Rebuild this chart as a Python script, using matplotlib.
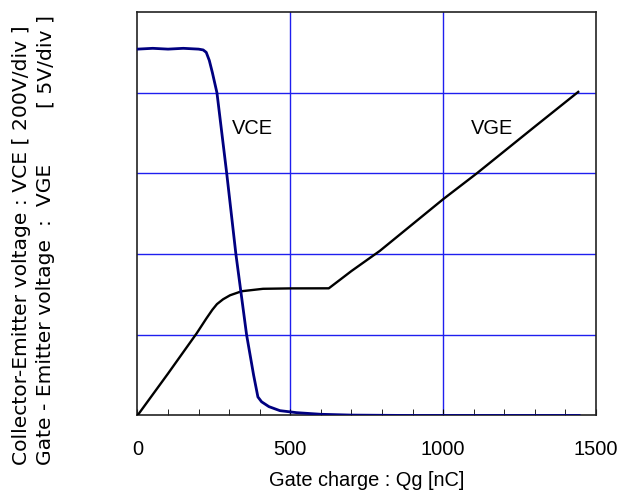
import numpy as np
import matplotlib.pyplot as plt

plt.rcParams['font.family'] = ['Liberation Sans', 'DejaVu Sans']

# Gate charge (nC) and voltages in divisions (VCE: 200V/div, VGE: 5V/div)
qg_vce = [0, 50, 100, 150, 200, 215, 225, 235, 245, 260, 292, 322, 357, 380,
          394, 406, 430, 466, 521, 600, 700, 900, 1200, 1445]
vce_div = [4.54, 4.55, 4.54, 4.55, 4.54, 4.53, 4.5, 4.4, 4.25, 4.0, 3.0, 2.0,
           1.0, 0.5, 0.23, 0.17, 0.11, 0.06, 0.035, 0.015, 0.005, 0.0, 0.0, 0.0]

qg_vge = [0, 100, 194, 225, 245, 260, 280, 303, 341, 411, 500, 626, 662, 700,
          793, 1000, 1110, 1300, 1442]
vge_div = [0, 0.52, 1.02, 1.2, 1.31, 1.38, 1.44, 1.49, 1.54, 1.57, 1.575,
           1.576, 1.68, 1.79, 2.04, 2.68, 3.0, 3.58, 4.01]

fig = plt.figure(figsize=(6.26, 4.92), dpi=100)
ax = fig.add_axes([0.2196, 0.1555, 0.7324, 0.8201])

grid_c = '#1f1fef'
for x in [500, 1000]:
    ax.axvline(x, color=grid_c, lw=1.0, zorder=1)
for y in [1, 2, 3, 4]:
    ax.axhline(y, color=grid_c, lw=1.0, zorder=1)

ax.plot(qg_vge, vge_div, color='black', lw=1.7, zorder=3)
ax.plot(qg_vce, vce_div, color='#000080', lw=2.0, zorder=4)

ax.text(375, 3.56, 'VCE', fontsize=14.4, ha='center', va='center')
ax.text(1159, 3.56, 'VGE', fontsize=14.4, ha='center', va='center')

ax.set_xlim(0, 1500)
ax.set_ylim(0, 5)
ax.set_xticks([0, 500, 1000, 1500])
ax.set_xticks(np.arange(0, 1501, 100), minor=True)
ax.tick_params(axis='x', which='both', direction='in', length=4, labelsize=14.4, pad=18)
ax.set_yticks([])
for s in ax.spines.values():
    s.set_color('#222222')
    s.set_linewidth(1.2)

ax.set_xlabel('Gate charge : Qg [nC]', fontsize=14.4, labelpad=8)

yfont = dict(rotation=90, fontsize=14.6, family='DejaVu Sans', ha='center')
fig.text(22 / 626, 1 - 465 / 492, 'Collector-Emitter voltage : VCE [ 200V/div ]',
         va='bottom', **yfont)
fig.text(45.5 / 626, 1 - 465 / 492, 'Gate - Emitter voltage  :  VGE',
         va='bottom', **yfont)
fig.text(45.5 / 626, 1 - 15 / 492, '[ 5V/div ]', va='top', **yfont)

fig.savefig('out.png', dpi=100)
